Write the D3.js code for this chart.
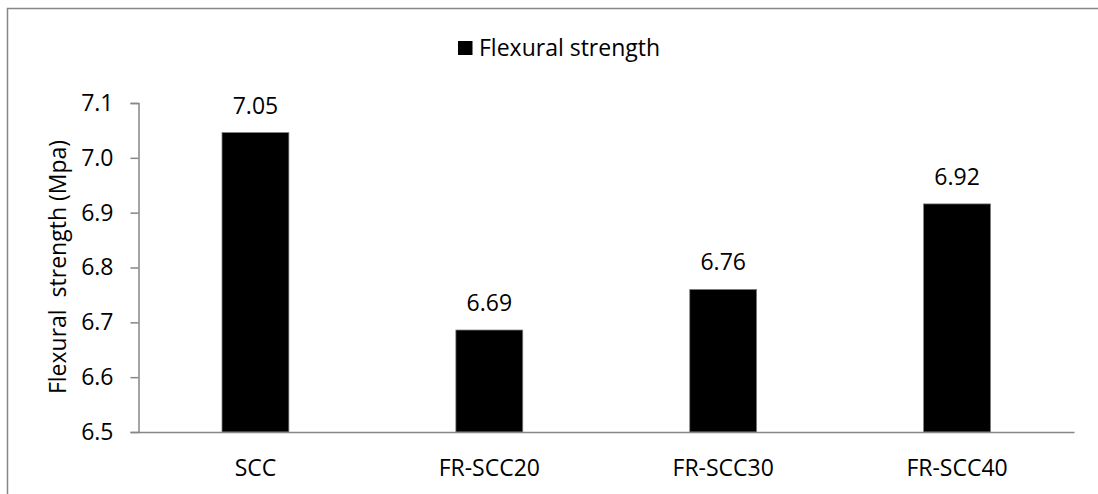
<!DOCTYPE html>
<html>
<head>
<meta charset="utf-8">
<script src="https://cdn.jsdelivr.net/npm/d3@7"></script>
<style>
  body { margin: 0; background: #fff; }
  text { font-family: "Open Sans", Lato, sans-serif; fill: #000; }
</style>
</head>
<body>
<svg></svg>
<script>
const width = 1098,
      height = 494

// data
const categories = ["SCC", "FR-SCC20", "FR-SCC30", "FR-SCC40"]
const values = [7.046, 6.686, 6.76, 6.916]
const valueLabels = ["7.05", "6.69", "6.76", "6.92"]
const yTicks = [6.5, 6.6, 6.7, 6.8, 6.9, 7.0, 7.1]
const seriesName = "Flexural strength"
const yTitle = "Flexural  strength (Mpa)"

const margin = {top: 103, right: 24, bottom: 62, left: 138.5}
const axisColor = "#868686"
const fontSize = "23px"
const font = "'Open Sans', Lato, sans-serif"

const svg = d3.select("svg")
  .attr("width", width)
  .attr("height", height)

// chart area border (only top and left show in the crop)
svg.append("path")
  .attr("d", `M7.5,${height} V8.5 H${width}`)
  .attr("fill", "none")
  .attr("stroke", axisColor)
  .attr("stroke-width", 1.5)

const x = d3.scaleBand()
  .domain(categories)
  .range([margin.left, width - margin.right])
  .paddingInner(0.714)
  .paddingOuter(0.357)

const y = d3.scaleLinear()
  .domain([6.5, 7.1])
  .range([height - margin.bottom, margin.top])

// bars
svg.selectAll("rect.bar")
  .data(values)
  .enter().append("rect")
    .classed("bar", true)
    .attr("x", (d, i) => x(categories[i]))
    .attr("y", d => y(d))
    .attr("width", x.bandwidth())
    .attr("height", d => y(6.5) - y(d))
    .attr("fill", "#000")
    .attr("stroke", "#7f7f7f")
    .attr("stroke-width", 0.75)

// value labels
svg.selectAll("text.val")
  .data(values)
  .enter().append("text")
    .classed("val", true)
    .attr("x", (d, i) => x(categories[i]) + x.bandwidth() / 2)
    .attr("y", d => y(d) - 19)
    .attr("text-anchor", "middle")
    .style("font-size", fontSize)
    .text((d, i) => valueLabels[i])

// y axis
const yAxis = svg.append("g")
  .attr("transform", `translate(${margin.left},0)`)
  .call(d3.axisLeft(y).tickValues(yTicks).tickFormat(d3.format(".1f")).tickSize(8).tickPadding(17))
yAxis.select(".domain").attr("stroke", axisColor).attr("stroke-width", 1.5)
yAxis.selectAll(".tick line").attr("stroke", axisColor).attr("stroke-width", 1.5)
yAxis.selectAll(".tick text")
  .style("font-size", fontSize)
  .style("font-family", font)
  .attr("fill", "#000")

// x axis (baseline)
const xAxis = svg.append("g")
  .attr("transform", `translate(0,${y(6.5)})`)
  .call(d3.axisBottom(x).tickSize(0).tickPadding(28))
xAxis.select(".domain").attr("stroke", axisColor).attr("stroke-width", 1.5)
xAxis.selectAll(".tick text")
  .style("font-size", fontSize)
  .style("font-family", font)
  .attr("fill", "#000")

// y axis title
svg.append("text")
  .attr("transform", `translate(66,267) rotate(-90)`)
  .attr("text-anchor", "middle")
  .style("font-size", fontSize)
  .style("white-space", "pre")
  .text(yTitle)

// legend
const legend = svg.append("g")
  .attr("transform", "translate(458,41)")
legend.append("rect")
  .attr("width", 14.5)
  .attr("height", 14)
  .attr("fill", "#000")
legend.append("text")
  .attr("x", 21)
  .attr("y", 15)
  .style("font-size", fontSize)
  .text(seriesName)
</script>
</body>
</html>
